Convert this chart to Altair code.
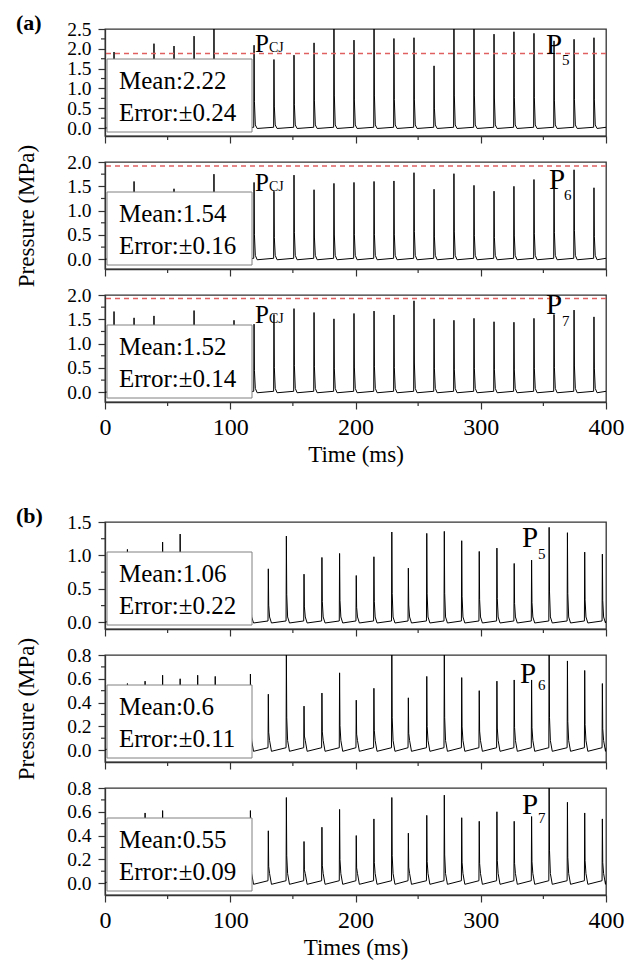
import altair as alt
import pandas as pd

# ---------------- data ----------------
x_major = [0, 100, 200, 300, 400]
x_minor = [50, 150, 250, 350]

# (a) detonation peak times (ms) and peak pressures (MPa)
time_a = [7.2, 23.2, 39.1, 55.1, 71.1, 87.0, 103.0, 119.0, 134.9, 150.9, 166.9,
          182.8, 198.8, 214.8, 230.7, 246.7, 262.7, 278.6, 294.6, 310.6, 326.5,
          342.5, 358.5, 374.5, 390.4]
peak_a5 = [1.92, 1.60, 2.13, 2.07, 2.32, 2.60, 1.70, 2.09, 1.73, 1.84, 2.15,
           2.60, 2.22, 2.60, 2.26, 2.28, 1.57, 2.60, 2.60, 2.37, 2.43, 2.39,
           2.20, 2.24, 2.28]
peak_a6 = [1.30, 1.60, 1.30, 1.45, 1.30, 1.75, 1.30, 1.58, 1.40, 1.73, 1.43,
           1.56, 1.58, 1.60, 1.61, 1.78, 1.44, 1.76, 1.52, 1.40, 1.50, 1.64,
           1.73, 1.84, 1.47]
peak_a7 = [1.66, 1.53, 1.57, 1.35, 1.68, 1.35, 1.48, 1.40, 1.60, 1.72, 1.64,
           1.51, 1.62, 1.67, 1.59, 1.88, 1.51, 1.48, 1.52, 1.45, 1.44, 1.52,
           1.60, 1.69, 1.55]
pcj_a = [1.88, 1.92, 1.93]
mean_a = ["Mean:2.22", "Mean:1.54", "Mean:1.52"]
err_a = ["Error:\u00b10.24", "Error:\u00b10.16", "Error:\u00b10.14"]

# (b)
time_b = [3.9, 17.9, 32.0, 46.0, 60.0, 74.0, 88.0, 102.1, 116.1, 130.4, 144.8,
          158.9, 173.2, 187.3, 200.6, 214.7, 229.0, 242.2, 256.9, 270.9, 284.8,
          298.8, 312.9, 326.7, 340.6, 354.6, 369.2, 383.0, 397.1]
peak_b5 = [0.90, 1.09, 0.90, 1.20, 1.32, 0.95, 0.85, 0.90, 1.04, 0.80, 1.29,
           0.72, 0.97, 1.03, 0.70, 0.98, 1.35, 0.81, 1.33, 1.36, 1.22, 1.06,
           1.11, 0.88, 0.93, 1.42, 1.34, 1.05, 1.02]
peak_b6 = [0.50, 0.56, 0.58, 0.63, 0.60, 0.63, 0.62, 0.50, 0.64, 0.47, 0.85,
           0.37, 0.48, 0.65, 0.42, 0.52, 0.85, 0.44, 0.62, 0.85, 0.61, 0.50,
           0.58, 0.59, 0.59, 0.85, 0.75, 0.67, 0.56]
peak_b7 = [0.50, 0.50, 0.59, 0.61, 0.50, 0.52, 0.48, 0.50, 0.61, 0.44, 0.72,
           0.35, 0.47, 0.62, 0.40, 0.54, 0.72, 0.42, 0.57, 0.74, 0.55, 0.52,
           0.60, 0.52, 0.56, 0.85, 0.68, 0.59, 0.54]
mean_b = ["Mean:1.06", "Mean:0.6", "Mean:0.55"]
err_b = ["Error:\u00b10.22", "Error:\u00b10.11", "Error:\u00b10.09"]

sensors = ["5", "6", "7"]

# y tick values (major labelled, minor unlabelled)
ya25_major = [0, 0.5, 1.0, 1.5, 2.0, 2.5]
ya25_minor = [0.25, 0.75, 1.25, 1.75, 2.25]
ya20_major = [0, 0.5, 1.0, 1.5, 2.0]
ya20_minor = [0.25, 0.75, 1.25, 1.75]
yb15_major = [0, 0.5, 1.0, 1.5]
yb15_minor = [0.25, 0.75, 1.25]
yb08_major = [0, 0.2, 0.4, 0.6, 0.8]
yb08_minor = [0.1, 0.3, 0.5, 0.7]

# ---------------- styling ----------------
SERIF = "Liberation Serif"
W, H = 501, 107
DASH_RED = "#e06060"
AX = "#333333"


def waveform(times, peaks):
    # spike shape: sharp rise to the read peak, fast decay, nearly flat baseline
    rows = [{"t": 0.0, "p": 0.0}]
    for t, p in zip(times, peaks):
        rows += [
            {"t": t - 0.25, "p": 0.02},
            {"t": t, "p": p},
            {"t": t + 0.3, "p": 0.32 * p},
            {"t": t + 1.0, "p": 0.08},
            {"t": t + 2.5, "p": -0.01},
        ]
    rows.append({"t": 400.0, "p": 0.02})
    return pd.DataFrame(rows)


def panel(times, peaks, ydom, ymajor, yminor, mean, err, sensor, p_xy, s_xy,
          pcj=None, cj_y=None, bottom=False, xtitle="", ytitle="", tag=""):
    wave = waveform(times, peaks)
    x = alt.X("t:Q", scale=alt.Scale(domain=[0, 400], nice=False, zero=False),
              axis=alt.Axis(values=x_major, grid=False, labelFlush=False,
                            labelOverlap=False, labels=bottom, tickSize=7),
              title=xtitle)
    y = alt.Y("p:Q", scale=alt.Scale(domain=ydom, nice=False, zero=False),
              axis=alt.Axis(values=ymajor, grid=False, labelOverlap=False,
                            format=".1f", tickSize=7, titlePadding=28),
              title=ytitle)

    line = alt.Chart(wave).mark_line(color="black", strokeWidth=1, clip=True).encode(x=x, y=y)
    layers = [line]

    # minor ticks drawn outside the frame
    ymin_t = alt.Chart(pd.DataFrame({"p": yminor})).mark_rule(
        color=AX, strokeWidth=1.2).encode(y=y, x=alt.value(-4), x2=alt.value(0))
    xmin_t = alt.Chart(pd.DataFrame({"t": x_minor})).mark_rule(
        color=AX, strokeWidth=1.2).encode(x=x, y=alt.value(H), y2=alt.value(H + 4))
    layers += [ymin_t, xmin_t]

    if pcj is not None:
        rule = alt.Chart(pd.DataFrame({"p": [pcj]})).mark_rule(
            color=DASH_RED, strokeDash=[5, 4], strokeWidth=1.5).encode(y=y)
        layers.append(rule)

    info = pd.DataFrame({"mean": [mean], "err": [err], "sensor": [sensor]})
    box = alt.Chart(info).mark_rect(fill="white", stroke="#808080", strokeWidth=1).encode(
        x=alt.value(2), x2=alt.value(147), y=alt.value(30), y2=alt.value(103))
    t1 = alt.Chart(info).mark_text(align="left", baseline="middle", font=SERIF,
                                   fontSize=25, color="black").encode(
        x=alt.value(14), y=alt.value(52), text="mean:N")
    t2 = alt.Chart(info).mark_text(align="left", baseline="middle", font=SERIF,
                                   fontSize=25, color="black").encode(
        x=alt.value(14), y=alt.value(84), text="err:N")
    pl = alt.Chart(info).mark_text(align="left", baseline="alphabetic", font=SERIF,
                                   fontSize=29, color="black").encode(
        x=alt.value(p_xy[0]), y=alt.value(p_xy[1]), text=alt.value("P"))
    sl = alt.Chart(info).mark_text(align="left", baseline="alphabetic", font=SERIF,
                                   fontSize=15, color="black").encode(
        x=alt.value(s_xy[0]), y=alt.value(s_xy[1]), text="sensor:N")
    layers += [box, t1, t2, pl, sl]

    if pcj is not None:
        cp = alt.Chart(info).mark_text(align="left", baseline="alphabetic", font=SERIF,
                                       fontSize=25, color="black").encode(
            x=alt.value(150), y=alt.value(cj_y), text=alt.value("P"))
        cs = alt.Chart(info).mark_text(align="left", baseline="alphabetic", font=SERIF,
                                       fontSize=14, color="black").encode(
            x=alt.value(164), y=alt.value(cj_y), text=alt.value("CJ"))
        layers += [cp, cs]
    if tag:
        tg = alt.Chart(info).mark_text(align="left", baseline="alphabetic", font=SERIF,
                                       fontSize=22, fontWeight="bold", color="black").encode(
            x=alt.value(-89), y=alt.value(1), text=alt.value(tag))
        layers.append(tg)
    return alt.layer(*layers).properties(width=W, height=H)


a1 = panel(time_a, peak_a5, [-0.2, 2.5], ya25_major, ya25_minor, mean_a[0], err_a[0],
           sensors[0], (441, 25), (457, 36), pcj=pcj_a[0], cj_y=23, tag="(a)")
a2 = panel(time_a, peak_a6, [-0.2, 2.0], ya20_major, ya20_minor, mean_a[1], err_a[1],
           sensors[1], (444, 27), (459, 38), pcj=pcj_a[1], cj_y=29,
           ytitle="Pressure (MPa)")
a3 = panel(time_a, peak_a7, [-0.2, 2.0], ya20_major, ya20_minor, mean_a[2], err_a[2],
           sensors[2], (441, 19), (457, 31), pcj=pcj_a[2], cj_y=28,
           bottom=True, xtitle="Time (ms)")

b1 = panel(time_b, peak_b5, [-0.1, 1.5], yb15_major, yb15_minor, mean_b[0], err_b[0],
           sensors[0], (417, 25), (433, 37), tag="(b)")
b2 = panel(time_b, peak_b6, [-0.1, 0.8], yb08_major, yb08_minor, mean_b[1], err_b[1],
           sensors[1], (415, 28), (433, 35), ytitle="Pressure (MPa)")
b3 = panel(time_b, peak_b7, [-0.1, 0.8], yb08_major, yb08_minor, mean_b[2], err_b[2],
           sensors[2], (417, 26), (433, 35), bottom=True, xtitle="Times (ms)")

groupA = alt.vconcat(a1, a2, a3, spacing=26, bounds="flush")
groupB = alt.vconcat(b1, b2, b3, spacing=26, bounds="flush")

chart = alt.vconcat(groupA, groupB, spacing=37).properties(
    padding={"left": 14, "top": 11, "right": 5, "bottom": 0}
).configure_view(stroke=AX, strokeWidth=1.3).configure_axis(
    domainColor=AX, domainWidth=1.3, tickColor=AX, tickWidth=1.2,
    labelColor="black", titleColor="black", labelFont=SERIF, titleFont=SERIF,
    titleFontWeight="normal", labelFontSize=24, titleFontSize=23, labelPadding=7
).configure_axisY(labelFontSize=19.5).configure_axisX(
    labelFontSize=24, labelPadding=6, titlePadding=4)

chart.save("out.html", embed_options={"renderer": "svg", "actions": False})
